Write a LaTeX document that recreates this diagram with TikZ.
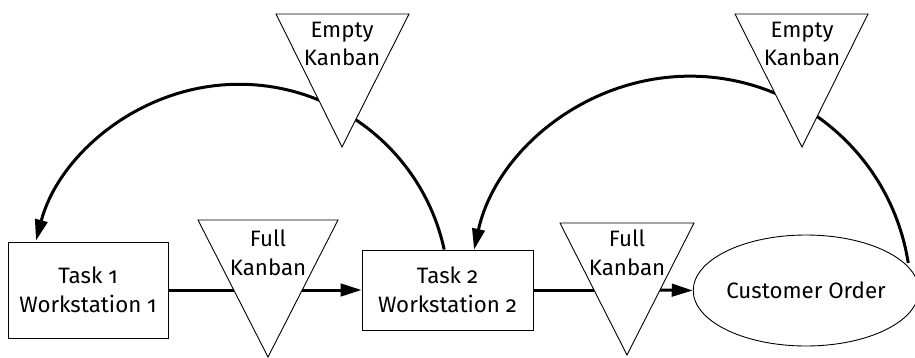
\documentclass[tikz,border=0pt]{standalone}
\usepackage{fontspec}
\setmainfont{Fira Sans}[Numbers=OldStyle]
\usetikzlibrary{arrows.meta,shapes.geometric}
\newcommand{\kfont}{\fontsize{22.3}{28.5}\selectfont}
\begin{document}
\begin{tikzpicture}[x=1pt,y=1pt,
  box/.style={draw, line width=0.9pt, inner sep=0pt, align=center, font=\kfont},
  tri/.style={draw, line width=0.9pt, fill=white, line join=miter},
  lbl/.style={inner sep=0pt, align=center, font=\kfont},
  conn/.style={line width=3pt},
  arr/.style={conn, -{Triangle[length=21pt,width=12.5pt]}}]
\useasboundingbox (0,0) rectangle (915,357);
% main nodes
\node[box, minimum width=160pt, minimum height=96pt] (t1) at (88,67) {Task 1\\Workstation 1};
\node[box, minimum width=171pt, minimum height=80pt] (t2) at (447.5,67) {Task 2\\Workstation 2};
\node[box, ellipse, minimum width=220pt, minimum height=111pt] (co) at (806,66.5) {Customer Order};
% feedback arcs (drawn before the triangles that cover them)
\draw[arr] ([xshift=-3.3pt]t2.north) arc[start angle=12.3, end angle=165.2, radius=210pt];
\draw[arr] ([xshift=-11pt,yshift=27.5pt]co.east) arc[start angle=8.9, end angle=167.6, radius=221pt];
% Full Kanban 1
\coordinate (fk1a) at (198,137); \coordinate (fk1b) at (338,137); \coordinate (fk1c) at (268,0);
\draw[tri] (fk1a) -- (fk1b) -- (fk1c) -- cycle;
\node[lbl] (fk1) at (268,104) {Full\\Kanban};
\coordinate (fk1in) at (233.8,67); \coordinate (fk1out) at (302.2,67);
% Full Kanban 2
\coordinate (fk2a) at (560,134); \coordinate (fk2b) at (694,134); \coordinate (fk2c) at (627,2);
\draw[tri] (fk2a) -- (fk2b) -- (fk2c) -- cycle;
\node[lbl] (fk2) at (627,104) {Full\\Kanban};
\coordinate (fk2in) at (594,67); \coordinate (fk2out) at (660,67);
% Empty Kanban 1
\coordinate (ek1a) at (276,343); \coordinate (ek1b) at (409,343); \coordinate (ek1c) at (342,210);
\draw[tri] (ek1a) -- (ek1b) -- (ek1c) -- cycle;
\node[lbl] (ek1) at (342,313) {Empty\\Kanban};
% Empty Kanban 2
\coordinate (ek2a) at (735,343); \coordinate (ek2b) at (868,343); \coordinate (ek2c) at (802,210);
\draw[tri] (ek2a) -- (ek2b) -- (ek2c) -- cycle;
\node[lbl] (ek2) at (802,313) {Empty\\Kanban};
% flow connectors
\draw[conn] (t1.east) -- (fk1in);
\draw[arr] (fk1out) -- (t2.west);
\draw[conn] (t2.east) -- (fk2in);
\draw[arr] (fk2out) -- (co.west);
\end{tikzpicture}
\end{document}
